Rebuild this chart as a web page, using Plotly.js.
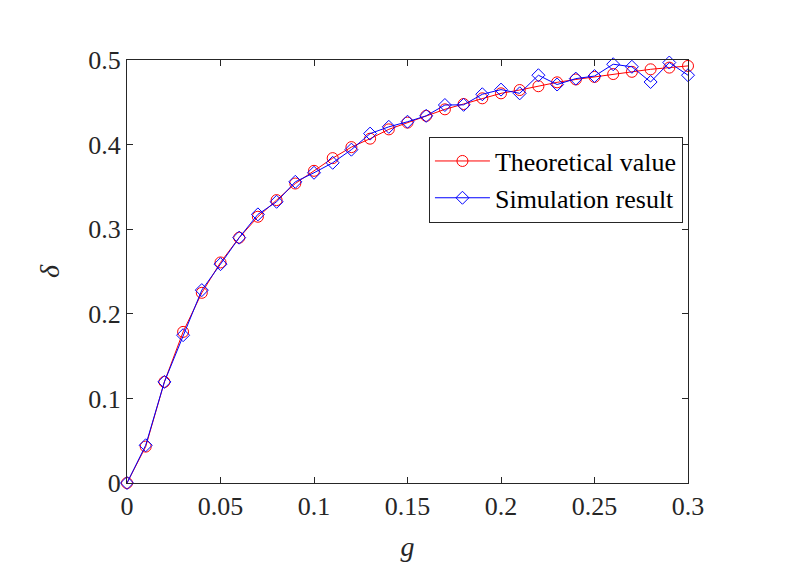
<!DOCTYPE html>
<html>
<head>
<meta charset="utf-8">
<script src="https://cdn.plot.ly/plotly-3.0.1.min.js"></script>
<style>html,body{margin:0;padding:0;background:#fff;}#chart{width:789px;height:579px;}</style>
</head>
<body>
<div id="chart"></div>
<script>
var g = [0, 0.01, 0.02, 0.03, 0.04, 0.05, 0.06, 0.07, 0.08, 0.09, 0.10,
         0.11, 0.12, 0.13, 0.14, 0.15, 0.16, 0.17, 0.18, 0.19, 0.20,
         0.21, 0.22, 0.23, 0.24, 0.25, 0.26, 0.27, 0.28, 0.29, 0.30];
var theoretical = [0, 0.043, 0.1195, 0.1786, 0.2248, 0.2607, 0.290, 0.3147, 0.3344, 0.354, 0.369,
                   0.384, 0.397, 0.407, 0.418, 0.426, 0.434, 0.4417, 0.448, 0.4547, 0.4606,
                   0.4645, 0.469, 0.4736, 0.477, 0.480, 0.4834, 0.486, 0.489, 0.491, 0.493];
var simulation = [0, 0.0446, 0.1195, 0.1747, 0.228, 0.2587, 0.290, 0.3175, 0.3324, 0.356, 0.3667,
                  0.3785, 0.394, 0.413, 0.421, 0.427, 0.434, 0.4468, 0.447, 0.4595, 0.465,
                  0.4606, 0.482, 0.471, 0.478, 0.481, 0.495, 0.492, 0.474, 0.497, 0.482];
var seriesNames = ["Theoretical value", "Simulation result"];

var serif = "'Liberation Serif', 'Times New Roman', serif";
var axisColor = "#262626";

var traces = [
  {x: g, y: theoretical, name: seriesNames[0], type: "scatter", mode: "lines+markers", cliponaxis: false,
   line: {color: "#ff0000", width: 1},
   marker: {symbol: "circle-open", size: 11, color: "#ff0000", line: {width: 1, color: "#ff0000"}}},
  {x: g, y: simulation, name: seriesNames[1], type: "scatter", mode: "lines+markers", cliponaxis: false,
   line: {color: "#0000ff", width: 1},
   marker: {symbol: "diamond-open", size: 10, color: "#0000ff", line: {width: 1, color: "#0000ff"}}}
];

var layout = {
  width: 789, height: 579,
  margin: {l: 127, r: 101, t: 60, b: 96},
  paper_bgcolor: "#ffffff", plot_bgcolor: "#ffffff",
  font: {family: serif, size: 22, color: axisColor},
  showlegend: true,
  legend: {x: 0.991, y: 0.819, xanchor: "right", yanchor: "top",
           bgcolor: "#ffffff", bordercolor: axisColor, borderwidth: 1,
           font: {family: serif, size: 26, color: "#000000"},
           itemwidth: 55, tracegroupgap: 0},
  xaxis: {range: [0, 0.3], dtick: 0.05, tick0: 0, showgrid: false, zeroline: false,
          showline: true, linecolor: axisColor, linewidth: 1, mirror: "ticks",
          ticks: "inside", ticklen: 6, tickcolor: axisColor,
          tickfont: {family: serif, size: 26, color: axisColor},
          title: {text: "<i>g</i>", font: {family: serif, size: 28, color: axisColor}, standoff: 16}},
  yaxis: {range: [0, 0.5], dtick: 0.1, tick0: 0, showgrid: false, zeroline: false,
          showline: true, linecolor: axisColor, linewidth: 1, mirror: "ticks",
          ticks: "inside", ticklen: 6, tickcolor: axisColor,
          tickfont: {family: serif, size: 26, color: axisColor},
          title: {text: "<i>δ</i>", font: {family: serif, size: 28, color: axisColor}, standoff: 20}}
};

Plotly.newPlot("chart", traces, layout, {displayModeBar: false, staticPlot: true});
</script>
</body>
</html>
